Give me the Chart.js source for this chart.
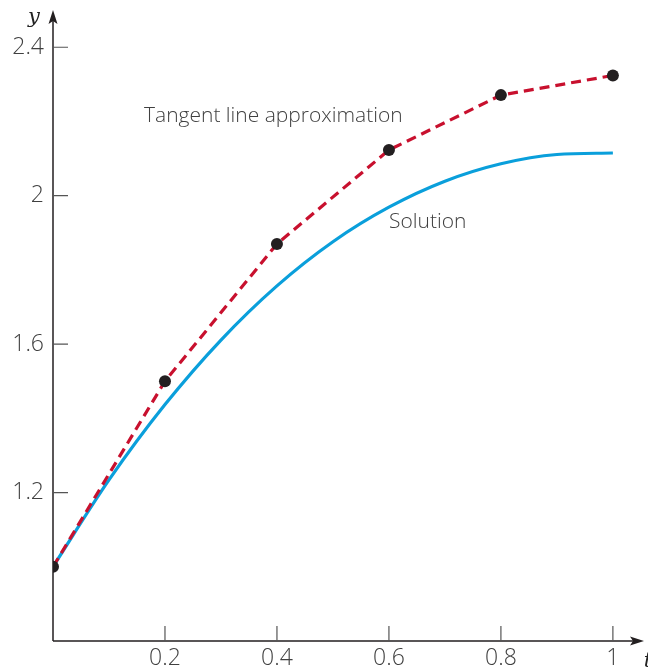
<!DOCTYPE html>
<html lang="en">
<head>
    <meta charset="UTF-8">
    <title>Tangent line approximation</title>
    <script src="https://cdn.jsdelivr.net/npm/chart.js"></script>
    <style>
        body {
            margin: 0;
            padding: 0;
            background: #ffffff;
        }
        .chart-box {
            width: 648px;
            height: 667px;
            position: relative;
        }
    </style>
</head>
<body>
    <div class="chart-box">
        <canvas id="eulerChart"></canvas>
    </div>

    <script>
        // Euler (tangent line) points, h = 0.2
        const eulerT = [0, 0.2, 0.4, 0.6, 0.8, 1];
        const eulerY = [1, 1.5, 1.87, 2.123, 2.271, 2.324];

        // Solution curve
        const solT = [0, 0.1, 0.2, 0.3, 0.4, 0.5, 0.6, 0.7, 0.8, 0.9, 1];
        const solY = [1, 1.234, 1.437, 1.611, 1.757, 1.876, 1.969, 2.039, 2.086, 2.111, 2.115];

        const xTicks = [0.2, 0.4, 0.6, 0.8, 1];
        const yTicks = [1.2, 1.6, 2, 2.4];

        const textColor = '#404040';
        const axisColor = '#231f20';
        const labelFont = '"Open Sans", sans-serif';

        // axes with arrows, inward tick marks, labels
        const axesPlugin = {
            id: 'axesPlugin',
            afterDatasetsDraw(chart) {
                const ctx = chart.ctx;
                const xs = chart.scales.x;
                const ys = chart.scales.y;
                const x0 = xs.getPixelForValue(0);
                const y0 = ys.getPixelForValue(0.8);
                const xEnd = xs.right;
                const yTop = ys.top;

                ctx.save();
                ctx.strokeStyle = axisColor;
                ctx.fillStyle = axisColor;
                ctx.lineWidth = 1.5;

                ctx.beginPath();
                ctx.moveTo(x0, y0);
                ctx.lineTo(x0, yTop + 6);
                ctx.moveTo(x0, y0);
                ctx.lineTo(xEnd - 6, y0);
                ctx.stroke();

                // arrow heads
                ctx.beginPath();
                ctx.moveTo(x0, yTop - 2);
                ctx.lineTo(x0 - 4.5, yTop + 12);
                ctx.lineTo(x0, yTop + 9);
                ctx.lineTo(x0 + 4.5, yTop + 12);
                ctx.closePath();
                ctx.fill();

                ctx.beginPath();
                ctx.moveTo(xEnd + 2, y0);
                ctx.lineTo(xEnd - 12, y0 - 4.5);
                ctx.lineTo(xEnd - 9, y0);
                ctx.lineTo(xEnd - 12, y0 + 4.5);
                ctx.closePath();
                ctx.fill();

                // tick marks
                ctx.strokeStyle = '#555555';
                ctx.lineWidth = 1.2;
                ctx.beginPath();
                xTicks.forEach(v => {
                    const px = xs.getPixelForValue(v);
                    ctx.moveTo(px, y0);
                    ctx.lineTo(px, y0 - 15);
                });
                yTicks.forEach(v => {
                    const py = ys.getPixelForValue(v);
                    ctx.moveTo(x0, py);
                    ctx.lineTo(x0 + 15, py);
                });
                ctx.stroke();

                // axis names
                ctx.fillStyle = '#222222';
                ctx.font = 'italic 21px "DejaVu Serif", "Liberation Serif", serif';
                ctx.textAlign = 'center';
                ctx.textBaseline = 'alphabetic';
                ctx.fillText('y', x0 - 19, yTop + 11);
                ctx.fillText('t', xEnd + 6, y0 + 26);

                // curve labels
                ctx.fillStyle = textColor;
                ctx.font = '300 21px ' + labelFont;
                ctx.textAlign = 'left';
                ctx.textBaseline = 'middle';
                ctx.fillText('Tangent line approximation', 144, ys.getPixelForValue(2.214));
                ctx.fillText('Solution', 389, ys.getPixelForValue(1.93));
                ctx.restore();
            }
        };

        const ctx = document.getElementById('eulerChart').getContext('2d');

        new Chart(ctx, {
            type: 'scatter',
            data: {
                datasets: [
                    {
                        label: 'Solution',
                        data: solT.map((t, i) => ({ x: t, y: solY[i] })),
                        showLine: true,
                        borderColor: '#0a9fdb',
                        borderWidth: 3.2,
                        pointRadius: 0,
                        cubicInterpolationMode: 'monotone',
                        fill: false,
                        order: 2,
                    },
                    {
                        label: 'Tangent line approximation',
                        data: eulerT.map((t, i) => ({ x: t, y: eulerY[i] })),
                        showLine: true,
                        borderColor: '#c8102e',
                        borderWidth: 3.2,
                        borderDash: [10, 6],
                        pointRadius: 6,
                        pointBackgroundColor: '#231f20',
                        pointBorderColor: '#231f20',
                        pointBorderWidth: 0,
                        tension: 0,
                        fill: false,
                        order: 1,
                    },
                ],
            },
            options: {
                responsive: true,
                maintainAspectRatio: false,
                animation: false,
                layout: { padding: { top: 12, right: 0, left: 0, bottom: 0 } },
                plugins: {
                    legend: { display: false },
                    tooltip: { enabled: false },
                },
                scales: {
                    x: {
                        type: 'linear',
                        min: 0,
                        max: 1.052,
                        grid: { display: false, drawTicks: false, tickLength: 0 },
                        border: { display: false },
                        afterBuildTicks: axis => { axis.ticks = xTicks.map(v => ({ value: v })); },
                        afterFit: axis => {
                            axis.height = 26;
                            axis.paddingLeft = 0;
                            axis.paddingRight = 0;
                        },
                        ticks: {
                            color: textColor,
                            font: { family: labelFont, size: 23, weight: 300 },
                            padding: 4,
                            maxRotation: 0,
                            callback: v => String(v),
                        },
                    },
                    y: {
                        type: 'linear',
                        min: 0.8,
                        max: 2.495,
                        grid: { display: false, drawTicks: false, tickLength: 0 },
                        border: { display: false },
                        afterBuildTicks: axis => { axis.ticks = yTicks.map(v => ({ value: v })); },
                        afterFit: axis => {
                            axis.width = 53;
                            axis.paddingTop = 0;
                            axis.paddingBottom = 0;
                        },
                        ticks: {
                            color: textColor,
                            font: { family: labelFont, size: 23, weight: 300 },
                            padding: 9,
                            callback: v => String(v),
                        },
                    },
                },
            },
            plugins: [axesPlugin],
        });
    </script>
</body>
</html>
